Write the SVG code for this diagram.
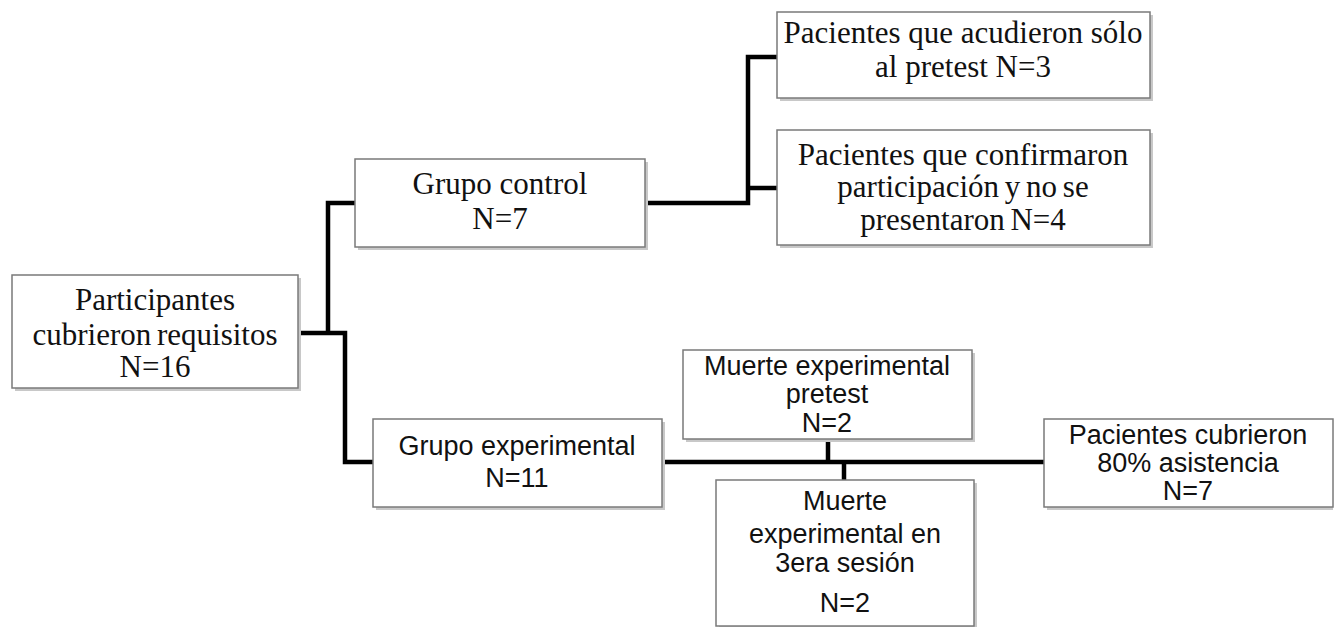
<svg xmlns="http://www.w3.org/2000/svg" width="1335" height="627" viewBox="0 0 1335 627">
<style>
.sh{fill:#c8c8c8}
.bx{fill:#fff;stroke:#7a7a7a;stroke-width:1.5}
.serif{font-family:"Liberation Serif","Times New Roman",serif;font-size:31px;fill:#111;text-anchor:middle}
.sans{font-family:"Liberation Sans",Arial,sans-serif;font-size:27px;fill:#111;text-anchor:middle}
.cn{fill:none;stroke:#000;stroke-width:4.5}
</style>
<rect width="1335" height="627" fill="#fff"/>
<g id="connectors">
<polyline class="cn" points="298,333 345,333 345,462 373,462"/>
<polyline class="cn" points="355,203 328,203 328,333"/>
<polyline class="cn" points="645,203 748,203 748,57 777,57"/>
<line class="cn" x1="748" y1="188" x2="777" y2="188"/>
<line class="cn" x1="662" y1="462" x2="1044" y2="462"/>
<line class="cn" x1="828" y1="439" x2="828" y2="462"/>
<line class="cn" x1="844" y1="462" x2="844" y2="480"/>
</g>
<g id="participantes">
<rect class="sh" x="15" y="278" width="286" height="113"/>
<rect class="bx" x="12" y="275" width="286" height="113"/>
<text class="serif" x="155" y="310">Participantes</text>
<text class="serif" x="155" y="345" word-spacing="-2">cubrieron requisitos</text>
<text class="serif" x="155" y="377">N=16</text>
</g>
<g id="control">
<rect class="sh" x="358" y="162" width="290" height="88"/>
<rect class="bx" x="355" y="159" width="290" height="88"/>
<text class="serif" x="500" y="194">Grupo control</text>
<text class="serif" x="500" y="229">N=7</text>
</g>
<g id="soloPretest">
<rect class="sh" x="780" y="15" width="373" height="86"/>
<rect class="bx" x="777" y="12" width="373" height="86"/>
<text class="serif" x="963" y="43">Pacientes que acudieron sólo</text>
<text class="serif" x="963" y="77">al pretest N=3</text>
</g>
<g id="noPresentaron">
<rect class="sh" x="780" y="133" width="373" height="115"/>
<rect class="bx" x="777" y="130" width="373" height="115"/>
<text class="serif" x="963" y="165">Pacientes que confirmaron</text>
<text class="serif" x="963" y="197" word-spacing="-2">participación y no se</text>
<text class="serif" x="963" y="230" word-spacing="-2">presentaron N=4</text>
</g>
<g id="experimental">
<rect class="sh" x="376" y="422" width="289" height="88"/>
<rect class="bx" x="373" y="419" width="289" height="88"/>
<text class="sans" x="517" y="455">Grupo experimental</text>
<text class="sans" x="517" y="487">N=11</text>
</g>
<g id="muertePretest">
<rect class="sh" x="686" y="353" width="289" height="89"/>
<rect class="bx" x="683" y="350" width="289" height="89"/>
<text class="sans" x="827" y="375">Muerte experimental</text>
<text class="sans" x="827" y="403">pretest</text>
<text class="sans" x="827" y="432">N=2</text>
</g>
<g id="muerte3era">
<rect class="sh" x="719" y="483" width="258" height="146"/>
<rect class="bx" x="716" y="480" width="258" height="146"/>
<text class="sans" x="845" y="510">Muerte</text>
<text class="sans" x="845" y="543">experimental en</text>
<text class="sans" x="845" y="572">3era sesión</text>
<text class="sans" x="845" y="612">N=2</text>
</g>
<g id="asistencia">
<rect class="sh" x="1047" y="422" width="286" height="88"/>
<rect class="bx" x="1044" y="419" width="289" height="88"/>
<text class="sans" x="1188" y="444">Pacientes cubrieron</text>
<text class="sans" x="1188" y="472">80% asistencia</text>
<text class="sans" x="1188" y="500">N=7</text>
</g>
</svg>
